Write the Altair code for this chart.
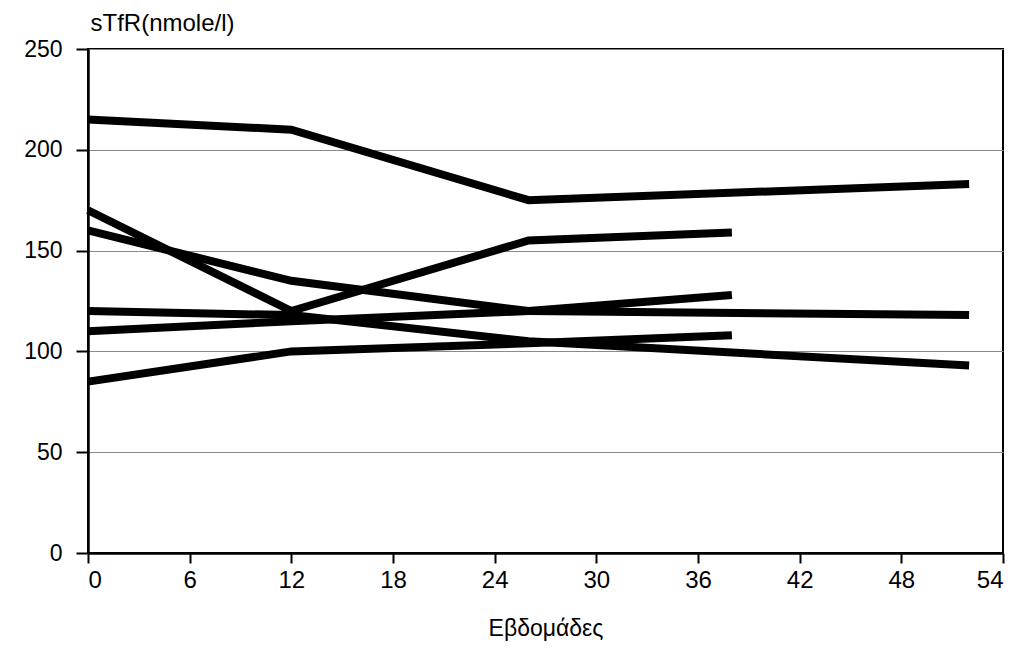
import altair as alt
import pandas as pd

# Weeks and sTfR values (nmole/l) for each patient line
weeks_1 = [0, 12, 26, 52]
values_1 = [215, 210, 175, 183]

weeks_2 = [0, 12, 26, 38]
values_2 = [170, 120, 155, 159]

weeks_3 = [0, 12, 26, 52]
values_3 = [160, 135, 120, 118]

weeks_4 = [0, 12, 26, 52]
values_4 = [120, 118, 105, 93]

weeks_5 = [0, 12, 26, 38]
values_5 = [110, 115, 120, 128]

weeks_6 = [0, 12, 26, 38]
values_6 = [85, 100, 104, 108]

x_ticks = [0, 6, 12, 18, 24, 30, 36, 42, 48, 54]
y_ticks = [0, 50, 100, 150, 200, 250]

series = [
    ("p1", weeks_1, values_1),
    ("p2", weeks_2, values_2),
    ("p3", weeks_3, values_3),
    ("p4", weeks_4, values_4),
    ("p5", weeks_5, values_5),
    ("p6", weeks_6, values_6),
]
rows = []
for name, ws, vs in series:
    for w, v in zip(ws, vs):
        rows.append({"patient": name, "week": w, "value": v})
df = pd.DataFrame(rows)

FONT = "Liberation Sans"

chart = alt.Chart(df).mark_line(
    color="black", strokeWidth=8, strokeCap="butt", strokeJoin="miter"
).encode(
    x=alt.X(
        "week:Q",
        scale=alt.Scale(domain=[0, 54], nice=False, zero=False),
        axis=alt.Axis(
            values=x_ticks,
            title="Εβδομάδες",
            grid=False,
            tickSize=10,
            labelPadding=5,
            labelFontSize=24,
            titleFontSize=23,
            titleY=75,
            titleBaseline="middle",
        ),
    ),
    y=alt.Y(
        "value:Q",
        scale=alt.Scale(domain=[0, 250], nice=False),
        axis=alt.Axis(
            values=y_ticks,
            title="sTfR(nmole/l)",
            grid=True,
            tickSize=12,
            labelPadding=14,
            labelFontSize=23,
            titleFontSize=24,
            titleAngle=0,
            titleAlign="left",
            titleBaseline="middle",
            titleX=2,
            titleY=-26,
        ),
    ),
    detail="patient:N",
    order="week:Q",
).properties(
    width=915,
    height=504,
    autosize=alt.AutoSizeParams(type="none"),
    padding={"left": 80, "top": 41, "right": 7, "bottom": 90},
).configure_view(
    stroke="black", strokeWidth=2
).configure_axis(
    domainColor="black",
    domainWidth=2.5,
    tickColor="black",
    tickWidth=2,
    labelFont=FONT,
    labelColor="black",
    titleFont=FONT,
    titleFontWeight="normal",
    titleColor="black",
    gridColor="#8a8a8a",
    gridWidth=1,
)

chart.save("out.html", embed_options={"renderer": "svg", "actions": False})
